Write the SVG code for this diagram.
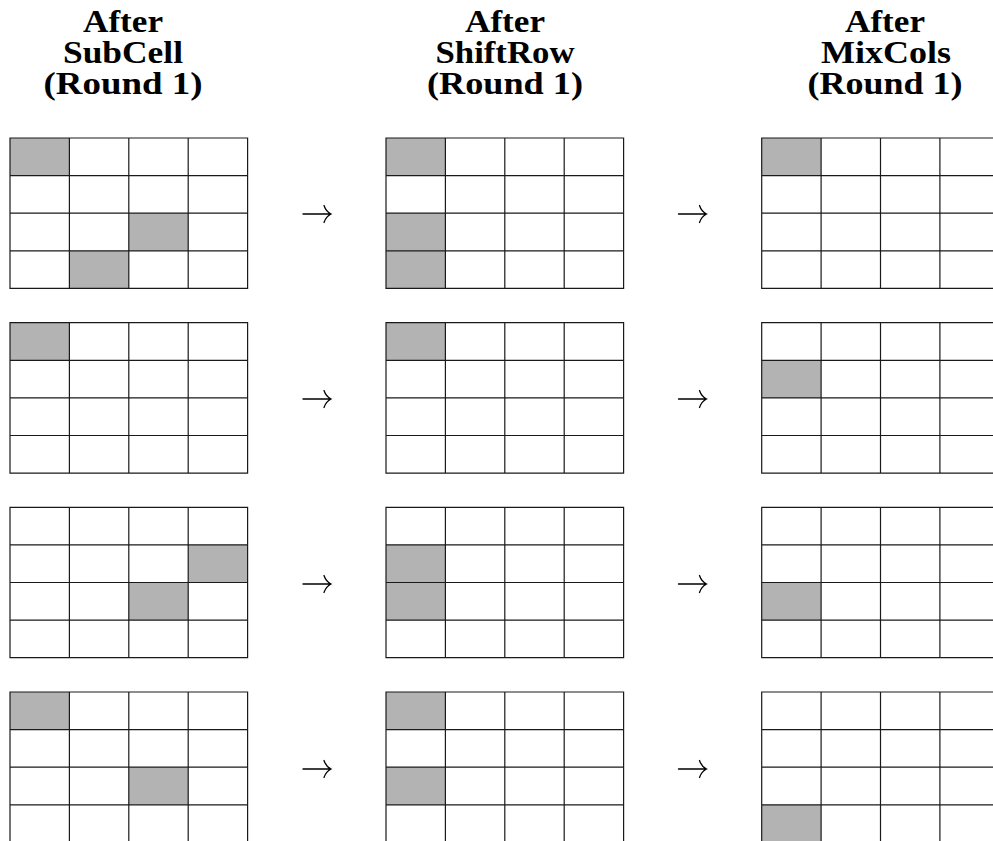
<svg xmlns="http://www.w3.org/2000/svg" xmlns:xlink="http://www.w3.org/1999/xlink" width="993" height="841" viewBox="0 0 993 841">
<style>
.t{font-family:"Liberation Serif","Times New Roman",serif;font-weight:bold;font-size:32px;fill:#000;text-anchor:middle}
.g{stroke:#1a1a1a;stroke-width:1.2;fill:none}
.s{fill:#b3b3b3}
.a{stroke:#000;stroke-width:1.3;fill:none;stroke-linecap:round}
</style>
<defs>
<path id="grid" class="g" d="M0,0H237.6V150.4H0Z M59.4,0V150.4 M118.8,0V150.4 M178.2,0V150.4 M0,37.6H237.6 M0,75.2H237.6 M0,112.8H237.6"/>
<rect id="c" class="s" width="59.4" height="37.6"/>
<path id="arr" class="a" d="M0,0H27.5 M21,-8.5Q23,-2.5 28,0Q23,2.5 21,8.5"/>
</defs>
<rect width="993" height="841" fill="#fff"/>
<g id="titles">
<g id="title1"><text class="t" x="123" y="32" textLength="80" lengthAdjust="spacingAndGlyphs">After</text><text class="t" x="123" y="63" textLength="120" lengthAdjust="spacingAndGlyphs">SubCell</text><text class="t" x="123" y="94" textLength="159" lengthAdjust="spacingAndGlyphs">(Round 1)</text></g>
<g id="title2"><text class="t" x="505" y="32" textLength="80" lengthAdjust="spacingAndGlyphs">After</text><text class="t" x="505" y="63" textLength="139" lengthAdjust="spacingAndGlyphs">ShiftRow</text><text class="t" x="505" y="94" textLength="156" lengthAdjust="spacingAndGlyphs">(Round 1)</text></g>
<g id="title3"><text class="t" x="885" y="32" textLength="80" lengthAdjust="spacingAndGlyphs">After</text><text class="t" x="886" y="63" textLength="130" lengthAdjust="spacingAndGlyphs">MixCols</text><text class="t" x="885" y="94" textLength="155" lengthAdjust="spacingAndGlyphs">(Round 1)</text></g>
</g>
<!-- Row 1 -->
<g id="r1g1" transform="translate(10,138)"><use xlink:href="#c" x="0" y="0"/><use xlink:href="#c" x="118.8" y="75.2"/><use xlink:href="#c" x="59.4" y="112.8"/><use xlink:href="#grid"/></g>
<g id="r1g2" transform="translate(386,138)"><use xlink:href="#c" x="0" y="0"/><use xlink:href="#c" x="0" y="75.2"/><use xlink:href="#c" x="0" y="112.8"/><use xlink:href="#grid"/></g>
<g id="r1g3" transform="translate(761.7,138)"><use xlink:href="#c" x="0" y="0"/><use xlink:href="#grid"/></g>
<!-- Row 2 -->
<g id="r2g1" transform="translate(10,322.7)"><use xlink:href="#c" x="0" y="0"/><use xlink:href="#grid"/></g>
<g id="r2g2" transform="translate(386,322.7)"><use xlink:href="#c" x="0" y="0"/><use xlink:href="#grid"/></g>
<g id="r2g3" transform="translate(761.7,322.7)"><use xlink:href="#c" x="0" y="37.6"/><use xlink:href="#grid"/></g>
<!-- Row 3 -->
<g id="r3g1" transform="translate(10,507.3)"><use xlink:href="#c" x="178.2" y="37.6"/><use xlink:href="#c" x="118.8" y="75.2"/><use xlink:href="#grid"/></g>
<g id="r3g2" transform="translate(386,507.3)"><use xlink:href="#c" x="0" y="37.6"/><use xlink:href="#c" x="0" y="75.2"/><use xlink:href="#grid"/></g>
<g id="r3g3" transform="translate(761.7,507.3)"><use xlink:href="#c" x="0" y="75.2"/><use xlink:href="#grid"/></g>
<!-- Row 4 -->
<g id="r4g1" transform="translate(10,692)"><use xlink:href="#c" x="0" y="0"/><use xlink:href="#c" x="118.8" y="75.2"/><use xlink:href="#grid"/></g>
<g id="r4g2" transform="translate(386,692)"><use xlink:href="#c" x="0" y="0"/><use xlink:href="#c" x="0" y="75.2"/><use xlink:href="#grid"/></g>
<g id="r4g3" transform="translate(761.7,692)"><use xlink:href="#c" x="0" y="112.8"/><use xlink:href="#grid"/></g>
<g id="connectors">
<use xlink:href="#arr" x="303" y="214"/><use xlink:href="#arr" x="678.5" y="214"/>
<use xlink:href="#arr" x="303" y="399"/><use xlink:href="#arr" x="678.5" y="399"/>
<use xlink:href="#arr" x="303" y="584"/><use xlink:href="#arr" x="678.5" y="584"/>
<use xlink:href="#arr" x="303" y="769"/><use xlink:href="#arr" x="678.5" y="769"/>
</g>
</svg>
